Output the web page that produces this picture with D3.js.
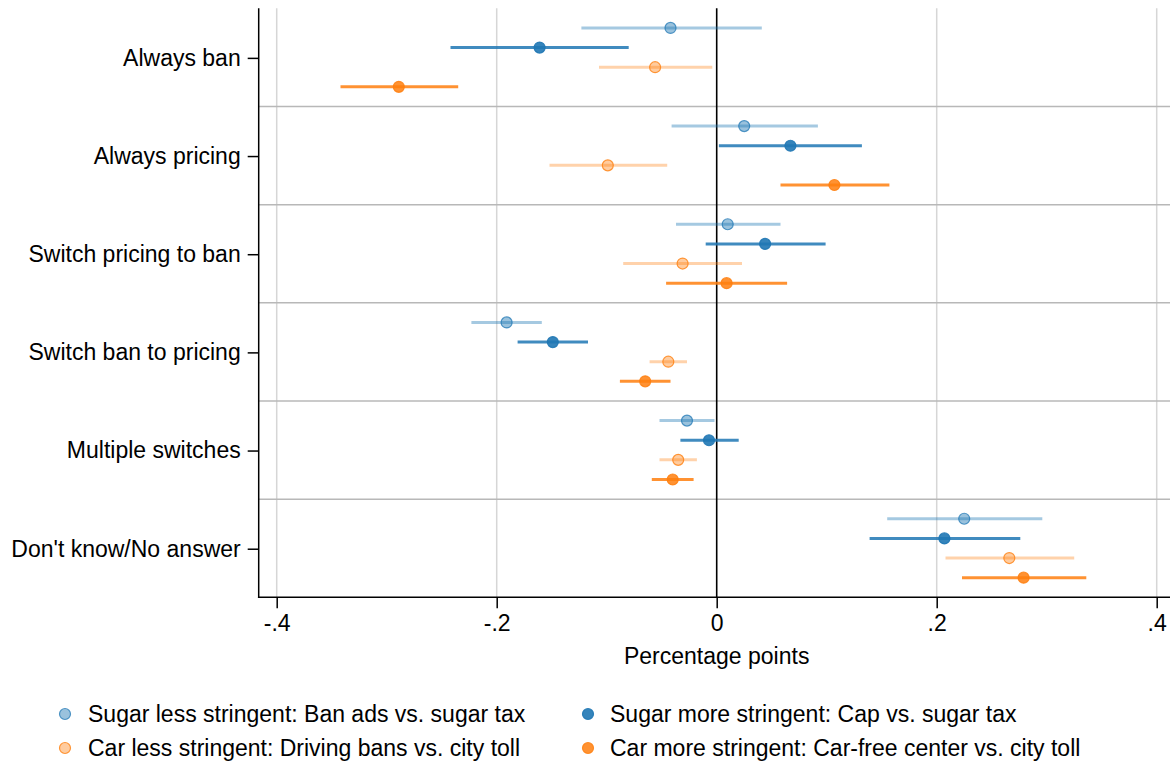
<!DOCTYPE html>
<html>
<head>
<meta charset="utf-8">
<script src="https://cdn.jsdelivr.net/npm/d3@7"></script>
<style>
  html, body { margin: 0; padding: 0; background: #fff; }
  svg { display: block; }
  text { font-family: "Liberation Sans", Arial, Helvetica, sans-serif; fill: #000; }
</style>
</head>
<body>
<svg id="chart" width="1170" height="764"></svg>
<script>
// Outcome categories (top to bottom)
const categories = [
  "Always ban",
  "Always pricing",
  "Switch pricing to ban",
  "Switch ban to pricing",
  "Multiple switches",
  "Don't know/No answer"
];

// Series labels
const seriesNames = [
  "Sugar less stringent: Ban ads vs. sugar tax",
  "Sugar more stringent: Cap vs. sugar tax",
  "Car less stringent: Driving bans vs. city toll",
  "Car more stringent: Car-free center vs. city toll"
];

// Point estimates and 95% confidence bounds, one value per category
const sugarLessEst = [-0.042, 0.025, 0.010, -0.191, -0.027, 0.225];
const sugarLessLo  = [-0.123, -0.041, -0.037, -0.223, -0.052, 0.155];
const sugarLessHi  = [0.041, 0.092, 0.058, -0.159, -0.002, 0.296];

const sugarMoreEst = [-0.161, 0.067, 0.044, -0.149, -0.007, 0.207];
const sugarMoreLo  = [-0.242, 0.002, -0.010, -0.181, -0.033, 0.139];
const sugarMoreHi  = [-0.080, 0.132, 0.099, -0.117, 0.020, 0.276];

const carLessEst = [-0.056, -0.099, -0.031, -0.044, -0.035, 0.266];
const carLessLo  = [-0.107, -0.152, -0.085, -0.061, -0.052, 0.208];
const carLessHi  = [-0.004, -0.045, 0.023, -0.027, -0.018, 0.325];

const carMoreEst = [-0.289, 0.107, 0.009, -0.065, -0.040, 0.279];
const carMoreLo  = [-0.342, 0.058, -0.046, -0.088, -0.059, 0.223];
const carMoreHi  = [-0.235, 0.157, 0.064, -0.042, -0.021, 0.336];

// x-axis ticks and their labels
const xTickValues = [-0.4, -0.2, 0, 0.2, 0.4];
const xTickLabels = ["-.4", "-.2", "0", ".2", ".4"];
const xTitle = "Percentage points";

// Styling per series
const styles = [
  { line: "#1f77b4", lineOp: 0.4,  fill: "#1f77b4", fillOp: 0.45, stroke: "#1f77b4", strokeOp: 0.75 },
  { line: "#1f77b4", lineOp: 0.85, fill: "#1f77b4", fillOp: 0.9,  stroke: "#1f77b4", strokeOp: 0.9 },
  { line: "#ff7f0e", lineOp: 0.35, fill: "#ff7f0e", fillOp: 0.4,  stroke: "#ff7f0e", strokeOp: 0.8 },
  { line: "#ff7f0e", lineOp: 0.85, fill: "#ff7f0e", fillOp: 0.85, stroke: "#ff7f0e", strokeOp: 0.85 }
];

const seriesData = [
  { est: sugarLessEst, lo: sugarLessLo, hi: sugarLessHi },
  { est: sugarMoreEst, lo: sugarMoreLo, hi: sugarMoreHi },
  { est: carLessEst,  lo: carLessLo,  hi: carLessHi },
  { est: carMoreEst,  lo: carMoreLo,  hi: carMoreHi }
];

const rows = [];
seriesData.forEach((s, j) => {
  categories.forEach((c, i) => {
    rows.push({ cat: c, series: j, est: s.est[i], lo: s.lo[i], hi: s.hi[i] });
  });
});

const svg = d3.select("#chart");
const fontSize = 23;

// Plot region
const plotLeft = 258.7, plotRight = 1170, plotTop = 8.3, plotBottom = 597.3;

const x = d3.scaleLinear().domain([-0.4, 0.4]).range([276.7, 1156.7]);
const y = d3.scaleBand().domain(categories).range([plotTop, plotBottom]).paddingInner(0).paddingOuter(0);
const bw = y.bandwidth();
const rowY = d => y(d.cat) + bw * (0.2 + 0.2 * d.series);

// Vertical grid lines
svg.append("g")
  .selectAll("line")
  .data(xTickValues.filter(v => v !== 0))
  .join("line")
  .attr("x1", d => x(d)).attr("x2", d => x(d))
  .attr("y1", plotTop).attr("y2", plotBottom)
  .attr("stroke", "#d6d6d6").attr("stroke-width", 1.5);

// Horizontal separators between categories
svg.append("g")
  .selectAll("line")
  .data(categories.slice(1))
  .join("line")
  .attr("x1", plotLeft).attr("x2", plotRight)
  .attr("y1", d => y(d)).attr("y2", d => y(d))
  .attr("stroke", "#b8b8b8").attr("stroke-width", 1.5);

// Zero reference line
svg.append("line")
  .attr("x1", x(0)).attr("x2", x(0))
  .attr("y1", plotTop).attr("y2", plotBottom)
  .attr("stroke", "#000").attr("stroke-width", 1.6);

// Confidence interval lines
svg.append("g")
  .selectAll("line")
  .data(rows)
  .join("line")
  .attr("x1", d => x(d.lo)).attr("x2", d => x(d.hi))
  .attr("y1", rowY).attr("y2", rowY)
  .attr("stroke", d => styles[d.series].line)
  .attr("stroke-opacity", d => styles[d.series].lineOp)
  .attr("stroke-width", 3);

// Point estimates
svg.append("g")
  .selectAll("circle")
  .data(rows)
  .join("circle")
  .attr("cx", d => x(d.est)).attr("cy", rowY)
  .attr("r", 5.5)
  .attr("fill", d => styles[d.series].fill)
  .attr("fill-opacity", d => styles[d.series].fillOp)
  .attr("stroke", d => styles[d.series].stroke)
  .attr("stroke-opacity", d => styles[d.series].strokeOp)
  .attr("stroke-width", 1.2);

// Axis lines
svg.append("line")
  .attr("x1", plotLeft).attr("x2", plotLeft)
  .attr("y1", plotTop).attr("y2", plotBottom + 0.75)
  .attr("stroke", "#000").attr("stroke-width", 1.5);
svg.append("line")
  .attr("x1", plotLeft - 0.75).attr("x2", plotRight)
  .attr("y1", plotBottom).attr("y2", plotBottom)
  .attr("stroke", "#000").attr("stroke-width", 1.5);

// Left axis (category labels)
const yAxis = svg.append("g")
  .attr("transform", `translate(${plotLeft},1)`)
  .call(d3.axisLeft(y).tickSize(11).tickPadding(7));
yAxis.select(".domain").remove();
yAxis.selectAll(".tick line").attr("stroke", "#000").attr("stroke-width", 1.5);
yAxis.selectAll(".tick text")
  .style("font-family", "'Liberation Sans', Arial, sans-serif")
  .style("font-size", fontSize + "px").attr("fill", "#000");

// Bottom axis
const xAxis = svg.append("g")
  .attr("transform", `translate(0,${plotBottom})`)
  .call(d3.axisBottom(x).tickValues(xTickValues)
    .tickFormat((d, i) => xTickLabels[i]).tickSize(11).tickPadding(6));
xAxis.select(".domain").remove();
xAxis.selectAll(".tick line").attr("stroke", "#000").attr("stroke-width", 1.5);
xAxis.selectAll(".tick text")
  .style("font-family", "'Liberation Sans', Arial, sans-serif")
  .style("font-size", fontSize + "px").attr("fill", "#000");

// Axis title
svg.append("text")
  .attr("x", x(0)).attr("y", 664)
  .attr("text-anchor", "middle")
  .style("font-size", fontSize + "px")
  .text(xTitle);

// Legend: two columns, two rows
const legendPos = [
  { cx: 65, tx: 88, cy: 714 },
  { cx: 588, tx: 610, cy: 714 },
  { cx: 65, tx: 88, cy: 748 },
  { cx: 588, tx: 610, cy: 748 }
];
const legend = svg.append("g")
  .selectAll("g")
  .data(seriesNames)
  .join("g");
legend.append("circle")
  .attr("cx", (d, i) => legendPos[i].cx).attr("cy", (d, i) => legendPos[i].cy)
  .attr("r", 5.5)
  .attr("fill", (d, i) => styles[i].fill)
  .attr("fill-opacity", (d, i) => styles[i].fillOp)
  .attr("stroke", (d, i) => styles[i].stroke)
  .attr("stroke-opacity", (d, i) => styles[i].strokeOp)
  .attr("stroke-width", 1.2);
legend.append("text")
  .attr("x", (d, i) => legendPos[i].tx).attr("y", (d, i) => legendPos[i].cy)
  .attr("dy", "0.35em")
  .style("font-size", fontSize + "px")
  .text(d => d);
</script>
</body>
</html>
